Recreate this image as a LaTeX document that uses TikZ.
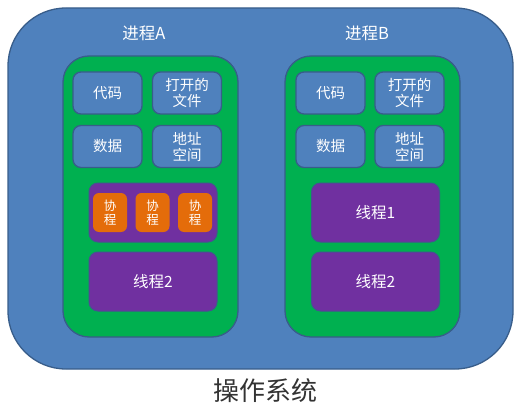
\documentclass[tikz,border=0pt]{standalone}
\usepackage{fontspec}
\setmainfont{Noto Sans CJK SC}
\definecolor{osblue}{HTML}{4F81BD}
\definecolor{bord}{HTML}{385D8A}
\definecolor{pgreen}{HTML}{00B050}
\definecolor{tpurple}{HTML}{7030A0}
\definecolor{corange}{HTML}{E46C0A}
\tikzset{
  osbox/.style={draw=bord, fill=osblue, line width=1.3pt, rounded corners=58pt, inner sep=0pt},
  procbox/.style={draw=bord, fill=pgreen, line width=1.3pt, rounded corners=26pt, inner sep=0pt},
  resbox/.style={draw=bord, fill=osblue, line width=1.3pt, rounded corners=8pt, inner sep=0pt,
    minimum width=69pt, minimum height=42pt, align=center, text=white,
    font=\fontsize{14.5}{16}\selectfont},
  thrbox/.style={draw=bord!70!tpurple, fill=tpurple, line width=1pt, rounded corners=9pt, inner sep=0pt,
    minimum width=128pt, minimum height=59pt, align=center, text=white,
    font=\fontsize{15.5}{17}\selectfont},
  cobox/.style={fill=corange, rounded corners=6pt, inner sep=0pt,
    minimum width=34pt, minimum height=39pt, align=center, text=white,
    font=\fontsize{12.5}{14}\selectfont},
  title/.style={text=white, font=\fontsize{16.5}{18}\selectfont, inner sep=0pt},
}
\begin{document}
\begin{tikzpicture}[x=1pt,y=-1pt]
\useasboundingbox (0,0) rectangle (522,409);
\node[osbox, minimum width=505pt, minimum height=361pt] (os) at (260.5,188.5) {};
% process A
\node[title] (tA) at (144,33) {进程A};
\node[procbox, minimum width=175pt, minimum height=281pt] (pA) at (150.5,196.5) {};
\node[resbox] (codeA) at (107.5,93) {代码};
\node[resbox] (fileA) at (187,93) {打开的\\文件};
\node[resbox] (dataA) at (107.5,146.5) {数据};
\node[resbox] (addrA) at (187,146.5) {地址\\空间};
\node[thrbox] (t1A) at (153,212.5) {};
\node[cobox] (c1) at (110,212.5) {协\\程};
\node[cobox] (c2) at (152.5,212.5) {协\\程};
\node[cobox] (c3) at (195,212.5) {协\\程};
\node[thrbox] (t2A) at (153,281.5) {线程2};
% process B
\node[title] (tB) at (367,33) {进程B};
\node[procbox, minimum width=175pt, minimum height=281pt] (pB) at (372.5,196.5) {};
\node[resbox] (codeB) at (330.5,93) {代码};
\node[resbox] (fileB) at (409.5,93) {打开的\\文件};
\node[resbox] (dataB) at (330.5,146.5) {数据};
\node[resbox] (addrB) at (409.5,146.5) {地址\\空间};
\node[thrbox] (t1B) at (375.5,212.5) {线程1};
\node[thrbox] (t2B) at (375.5,281.5) {线程2};
% OS label
\node[text=black!80, font=\fontsize{26}{28}\selectfont, inner sep=0pt] (osl) at (265,391) {操作系统};
\end{tikzpicture}
\end{document}
